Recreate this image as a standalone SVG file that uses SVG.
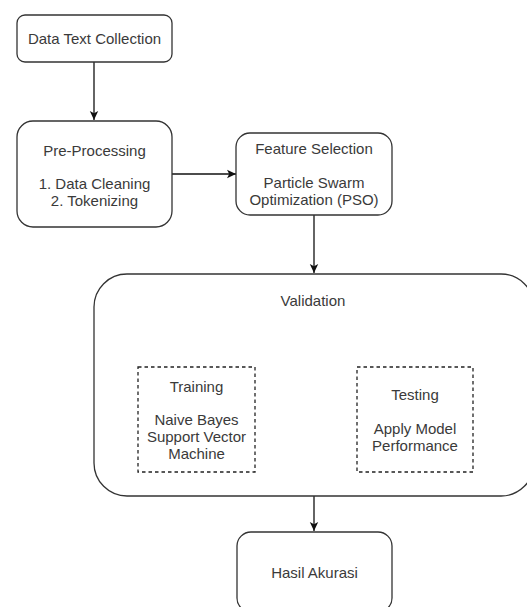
<svg xmlns="http://www.w3.org/2000/svg" width="527" height="607" viewBox="0 0 527 607">
<style>
.box{fill:#fff;stroke:#333;stroke-width:1.3}
.dash{fill:none;stroke:#222;stroke-width:1.3;stroke-dasharray:3.5 3}
.t{font-family:"Liberation Sans",Arial,sans-serif;font-size:15px;fill:#3a3a3a;text-anchor:middle}
.c{fill:none;stroke:#111;stroke-width:1.3}
</style>
<defs>
<marker id="ah" markerWidth="10" markerHeight="10" refX="9" refY="5" orient="auto" markerUnits="userSpaceOnUse">
<path d="M0,0.8 L9,5 L0,9.2 L2.2,5 Z" fill="#111"/>
</marker>
</defs>
<rect width="527" height="607" fill="#fff"/>
<g id="connectors">
<path class="c" d="M94,62 L94,120" marker-end="url(#ah)"/>
<path class="c" d="M172,174 L236,174" marker-end="url(#ah)"/>
<path class="c" d="M314,215 L314,273" marker-end="url(#ah)"/>
<path class="c" d="M314,496 L314,531" marker-end="url(#ah)"/>
</g>
<g id="data-text-collection">
<rect class="box" x="17" y="15" width="155" height="47" rx="8"/>
<text class="t" x="94.5" y="43.5">Data Text Collection</text>
</g>
<g id="pre-processing">
<rect class="box" x="17" y="121" width="155" height="106" rx="16"/>
<text class="t" x="94.5" y="155.5">Pre-Processing</text>
<text class="t" x="94.5" y="189">1. Data Cleaning</text>
<text class="t" x="94.5" y="205.8">2. Tokenizing</text>
</g>
<g id="feature-selection">
<rect class="box" x="236" y="133" width="156" height="82" rx="14"/>
<text class="t" x="314" y="154.2">Feature Selection</text>
<text class="t" x="314" y="187.8">Particle Swarm</text>
<text class="t" x="314" y="204.6">Optimization (PSO)</text>
</g>
<g id="validation">
<rect class="box" x="94" y="274" width="440" height="222" rx="33"/>
<text class="t" x="313" y="305.5">Validation</text>
</g>
<g id="training">
<rect class="dash" x="138" y="367" width="117" height="105"/>
<text class="t" x="196.5" y="391.8">Training</text>
<text class="t" x="196.5" y="425.4">Naive Bayes</text>
<text class="t" x="196.5" y="442.2">Support Vector</text>
<text class="t" x="196.5" y="459">Machine</text>
</g>
<g id="testing">
<rect class="dash" x="357" y="367" width="116" height="105"/>
<text class="t" x="415" y="400.2">Testing</text>
<text class="t" x="415" y="433.8">Apply Model</text>
<text class="t" x="415" y="450.6">Performance</text>
</g>
<g id="hasil-akurasi">
<rect class="box" x="237" y="532" width="155" height="80" rx="14"/>
<text class="t" x="314.5" y="577.5">Hasil Akurasi</text>
</g>
</svg>
